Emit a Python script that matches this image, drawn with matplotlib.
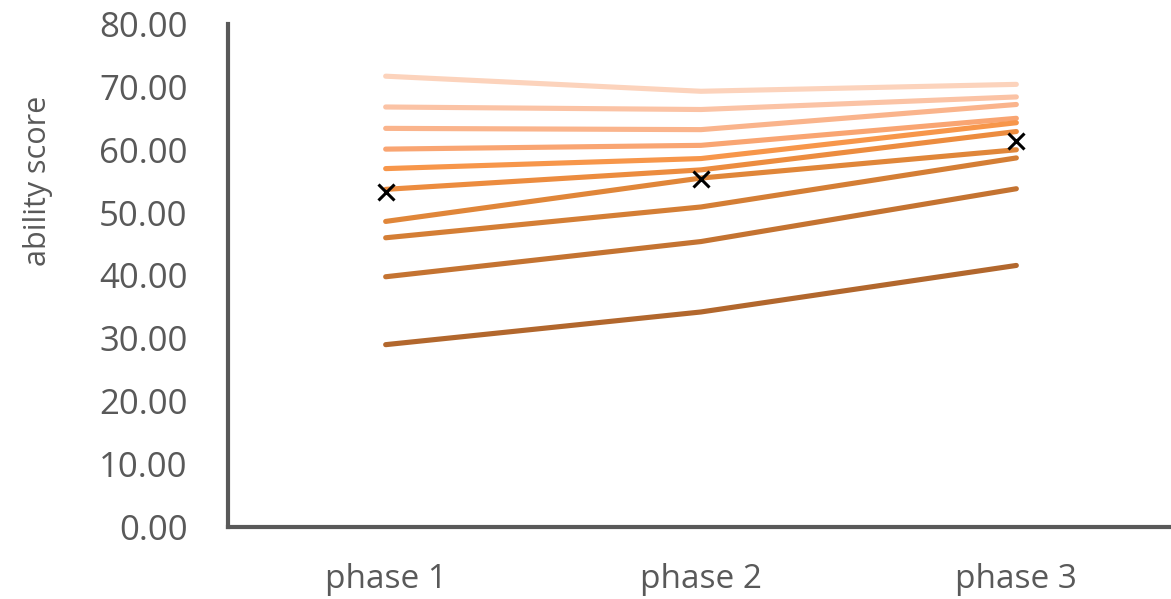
import matplotlib
matplotlib.use("Agg")
import matplotlib.pyplot as plt

phases = ["phase 1", "phase 2", "phase 3"]

# one row per group (top = lightest line)
scores = [
    [71.7, 69.3, 70.4],
    [66.8, 66.4, 68.4],
    [63.4, 63.2, 67.2],
    [60.1, 60.7, 65.0],
    [57.0, 58.6, 64.3],
    [53.7, 56.8, 62.9],
    [48.6, 55.5, 60.0],
    [46.0, 50.9, 58.7],
    [39.8, 45.4, 53.8],
    [29.0, 34.2, 41.6],
]
means = [53.3, 55.4, 61.4]

line_colors = ["#FCD3BC", "#FBC3A5", "#FAB48C", "#F9A572", "#F7964A",
               "#EC8C3F", "#E08639", "#D47E35", "#C47331", "#B2672D"]

grey = "#595959"
plt.rcParams['font.family'] = ['Open Sans', 'DejaVu Sans']

fig = plt.figure(figsize=(11.71, 5.99), dpi=100)
ax = fig.add_axes([228/1171, 1 - 527/599, (1174 - 228)/1171, (527 - 24)/599])

x = list(range(len(phases)))
for row, c in zip(scores, line_colors):
    ax.plot(x, row, color=c, lw=3.7, solid_capstyle='round', solid_joinstyle='round')

ax.plot(x, means, linestyle='none', marker='x', color='black',
        markersize=11, markeredgewidth=2.2, zorder=5)

ax.set_xlim(-0.5, 2.5)
ax.set_ylim(0, 80)
ax.set_yticks(range(0, 81, 10))
ax.set_yticklabels(["%.2f" % v for v in range(0, 81, 10)])
ax.set_xticks(x)
ax.set_xticklabels(phases)

for s in ["top", "right"]:
    ax.spines[s].set_visible(False)
for s in ["left", "bottom"]:
    ax.spines[s].set_color(grey)
    ax.spines[s].set_linewidth(3)
    ax.spines[s].set_capstyle('projecting')

ax.tick_params(axis='y', length=0, pad=29, labelsize=25, labelcolor=grey)
ax.tick_params(axis='x', length=0, pad=26, labelsize=24, labelcolor=grey)
ax.set_ylabel("ability score", fontsize=22, color=grey)
ax.yaxis.set_label_coords(-0.185, 0.688)

fig.savefig("out.png", dpi=100)
